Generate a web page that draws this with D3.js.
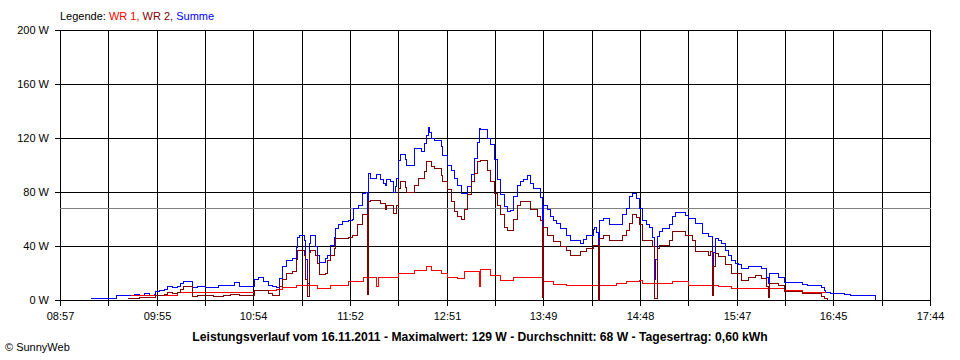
<!DOCTYPE html>
<html><head><meta charset="utf-8">
<script src="https://cdn.jsdelivr.net/npm/d3@7"></script>
<style>
body{margin:0;background:#fff}
svg{display:block}
text{font-family:"Liberation Sans",Arial,sans-serif}
</style>
</head><body>
<svg id="c" width="960" height="360"></svg>
<script>
// ---- data ----
const xLabels = ["08:57","","09:55","","10:54","","11:52","","12:51","","13:49","","14:48","","15:47","","16:45","","17:44"];
const yTicks = [0,40,80,120,160,200];
const timeStart = "08:57", timeEnd = "17:44";
const average = 68;
const legendItems = ["WR 1", "WR 2", "Summe"];
const title = "Leistungsverlauf vom 16.11.2011 - Maximalwert: 129 W - Durchschnitt: 68 W - Tagesertrag: 0,60 kWh";

const summe = [
["09:16",1],["09:31",3],["09:42",4],["09:45",3.5],["09:48",4.5],["09:51",3.5],["09:54",4],["09:55",6.5],["09:57",7],["10:00",8],["10:02",10],["10:05",9],["10:08",10],["10:10",12.5],["10:12",14],["10:17",9],["10:20",10],["10:25",9.5],["10:30",9],["10:33",10.5],["10:40",11],["10:43",12.6],["10:46",10],["10:55",15],["10:57",16.5],["11:00",14],["11:03",11],["11:06",10],["11:08",9.4],["11:10",16],["11:12",25],["11:14",29.6],["11:18",31],["11:20",39],["11:21",46],["11:22",48],["11:25",44],["11:26",30],["11:27",12],["11:28",42],["11:29",48],["11:32",40],["11:33",33],["11:34",28],["11:38",31],["11:39",33],["11:41",40.7],["11:43",46],["11:44",53],["11:46",56],["11:48",58],["11:52",59],["11:54",60],["11:55",68],["11:58",70],["12:00",79],["12:02",80],["12:03",5],["12:04",93.8],["12:05",90],["12:09",92.6],["12:11",89],["12:13",86],["12:14",85],["12:15",89],["12:17",88],["12:19",80],["12:20",84],["12:21",90],["12:22",103.7],["12:23",108],["12:26",104],["12:27",100],["12:32",112],["12:36",110],["12:38",116],["12:39",122],["12:40",128],["12:41",124],["12:42",119.7],["12:44",118.5],["12:48",113.6],["12:49",107.4],["12:52",100],["12:54",96],["12:56",90],["12:58",85],["13:00",79],["13:04",84],["13:06",92.6],["13:08",105],["13:10",117],["13:11",127],["13:12",126],["13:16",120],["13:18",115],["13:20",104],["13:22",89],["13:24",78],["13:26",69],["13:28",65.4],["13:30",66],["13:32",77],["13:34",85],["13:36",87.6],["13:38",89.4],["13:40",92],["13:42",86.4],["13:44",82.7],["13:48",76],["13:49",17],["13:50",70],["13:52",66.7],["13:54",61.7],["13:56",59],["13:58",57],["14:00",53],["14:04",48],["14:06",44],["14:12",42],["14:14",45],["14:16",48],["14:20",52],["14:21",54],["14:22",50],["14:23",17],["14:24",59],["14:26",60.5],["14:30",55.6],["14:38",63],["14:40",68],["14:42",76.5],["14:44",79],["14:46",75],["14:48",68],["14:50",59],["14:52",56],["14:54",54],["14:56",46],["14:57",15],["14:58",30],["14:59",47],["15:00",50.6],["15:02",53],["15:06",55.6],["15:08",61.7],["15:10",65],["15:16",62.5],["15:18",60.5],["15:22",56.8],["15:26",49],["15:30",47],["15:32",15],["15:33",35],["15:34",45.7],["15:36",44],["15:38",42],["15:40",37],["15:42",33],["15:44",29.6],["15:46",27],["15:48",26],["15:50",23.5],["15:54",24.7],["16:02",23.5],["16:05",17],["16:06",12],["16:07",19.8],["16:12",17],["16:16",13],["16:27",11.6],["16:30",11],["16:38",9.4],["16:40",7.4],["16:41",5.4],["16:44",5],["16:52",4.4],["16:56",3.7],["17:10",3.7],["17:11",0]
];

const wr2 = [
["09:38",1],["09:45",1.5],["09:55",3.7],["09:57",3],["10:00",4],["10:02",5.4],["10:05",4.5],["10:08",5.4],["10:10",8],["10:12",10],["10:17",2.5],["10:20",3.1],["10:30",2.5],["10:36",3],["10:40",4.2],["10:46",3.7],["10:55",6.7],["11:00",7],["11:03",5],["11:06",3],["11:10",10],["11:12",15],["11:14",19.8],["11:18",21],["11:20",30],["11:21",37],["11:25",33],["11:26",15],["11:27",2.5],["11:28",35],["11:29",37],["11:32",33],["11:33",27],["11:34",19],["11:38",20],["11:39",29.6],["11:41",33],["11:43",38],["11:44",45.7],["11:52",46],["11:54",48],["11:57",55.6],["12:00",63],["12:03",4],["12:04",72.8],["12:05",74],["12:11",71.6],["12:14",66.7],["12:15",70],["12:19",64],["12:21",70],["12:22",82.7],["12:23",87.6],["12:26",83],["12:27",80],["12:32",85],["12:34",90],["12:38",95],["12:39",102.4],["12:42",98.8],["12:44",97.5],["12:48",92],["12:49",87.6],["12:52",81.5],["12:54",72.8],["12:56",65.4],["12:58",61.7],["13:00",60],["13:02",66.7],["13:04",78],["13:06",87.6],["13:08",93.8],["13:10",102.4],["13:12",103.7],["13:16",96],["13:18",87.6],["13:20",79],["13:22",70],["13:24",63],["13:26",54],["13:28",51.8],["13:32",60],["13:34",70],["13:36",72.8],["13:42",66.7],["13:46",61.7],["13:48",59],["13:49",2],["13:50",54],["13:52",48],["13:56",43],["14:00",39.5],["14:04",37],["14:06",33.3],["14:12",35.8],["14:16",38.3],["14:20",40.7],["14:23",0],["14:24",45.7],["14:26",48],["14:30",44],["14:38",48],["14:40",51.8],["14:42",56.8],["14:44",63],["14:46",61],["14:48",55.6],["14:50",44],["14:56",40],["14:57",1],["14:59",38],["15:00",40.7],["15:06",44],["15:08",50.6],["15:16",48],["15:20",44],["15:22",35.8],["15:30",33],["15:31",36],["15:32",3.7],["15:33",25],["15:34",34.6],["15:36",32],["15:40",26],["15:44",19.8],["15:50",14.8],["15:54",17],["15:58",17.8],["16:02",16],["16:05",10],["16:06",1.5],["16:07",12.3],["16:12",11],["16:16",6.2],["16:27",5],["16:38",2.5],["16:40",1.2],["16:42",0]
];

const wr1 = [
["09:40",3],["10:08",5.5],["10:55",6.7],["11:08",8],["11:12",9.4],["11:20",11],["11:33",8.6],["11:41",11],["11:52",13.6],["12:01",17],["12:09",10],["12:10",17],["12:22",19.3],["12:32",21.7],["12:39",24.7],["12:42",22],["12:48",19.3],["12:52",16.8],["12:58",16],["13:02",21],["13:11",10],["13:12",22.7],["13:18",18.5],["13:24",14.3],["13:32",17],["13:50",13.6],["13:56",11.6],["14:04",11],["14:34",12],["14:40",13.6],["14:48",14.8],["14:50",12.3],["15:08",13.6],["15:18",11],["15:36",9.9],["15:44",8.6],["16:16",6.7],["16:27",5.6],["16:41",5.6]
];

// ---- chart ----
const toMin = s => { const p = s.split(":").map(Number); return p[0]*60 + p[1]; };
const x = d3.scaleLinear().domain([toMin(timeStart), toMin(timeEnd)]).range([60, 930]);
const y = d3.scaleLinear().domain([0, 200]).range([300, 30]);
const px = v => Math.round(v) + 0.5;

const svg = d3.select("#c");
svg.append("rect").attr("width", 960).attr("height", 360).attr("fill", "#fff");

const [d0, d1] = x.domain();
const xTickVals = d3.range(xLabels.length).map(i => d0 + i * (d1 - d0) / (xLabels.length - 1));

const grid = svg.append("g").attr("shape-rendering", "crispEdges").attr("stroke", "#000").attr("stroke-width", 1);
grid.selectAll("line.v").data(xTickVals).join("line").attr("class", "v")
  .attr("x1", d => px(x(d))).attr("x2", d => px(x(d)))
  .attr("y1", y(200)).attr("y2", y(0) + 6);
grid.selectAll("line.h").data(yTicks).join("line").attr("class", "h")
  .attr("y1", d => px(y(d))).attr("y2", d => px(y(d)))
  .attr("x1", 55).attr("x2", x.range()[1] + 1);

// axes (labels)
const xAxis = svg.append("g").attr("transform", `translate(0,${px(y(0))})`)
  .call(d3.axisBottom(x).tickValues(xTickVals).tickFormat((d, i) => xLabels[i]).tickSize(0).tickPadding(12));
xAxis.select(".domain").remove();
xAxis.selectAll(".tick").attr("transform", d => `translate(${px(x(d))},0)`);
xAxis.selectAll("text").attr("font-size", 11).attr("fill", "#000").attr("font-family", '"Liberation Sans",Arial,sans-serif');

const yAxis = svg.append("g").attr("transform", `translate(60,0)`)
  .call(d3.axisLeft(y).tickValues(yTicks).tickFormat(d => d + " W").tickSize(0).tickPadding(11));
yAxis.select(".domain").remove();
yAxis.selectAll(".tick").attr("transform", d => `translate(0,${px(y(d))})`);
yAxis.selectAll("text").attr("font-size", 11).attr("fill", "#000").attr("font-family", '"Liberation Sans",Arial,sans-serif');

// average line
svg.append("line").attr("shape-rendering", "crispEdges")
  .attr("x1", 60).attr("x2", x.range()[1] + 1)
  .attr("y1", px(y(average))).attr("y2", px(y(average)))
  .attr("stroke", "#808080").attr("stroke-width", 1);

// series
const line = d3.line().x(d => x(toMin(d[0]))).y(d => y(d[1])).curve(d3.curveStepAfter);
const series = [
  {data: summe, color: "#0000ff"},
  {data: wr1, color: "#ff0000"},
  {data: wr2, color: "#800000"}
];
svg.append("g").selectAll("path").data(series).join("path")
  .attr("d", d => line(d.data))
  .attr("fill", "none").attr("stroke", d => d.color).attr("stroke-width", 1)
  .attr("shape-rendering", "crispEdges");

// legend
const leg = svg.append("text").attr("x", 60).attr("y", 20).attr("font-size", 11);
leg.append("tspan").attr("fill", "#000").text("Legende: ");
leg.append("tspan").attr("fill", "#ff0000").text(legendItems[0] + ", ");
leg.append("tspan").attr("fill", "#800000").text(legendItems[1] + ", ");
leg.append("tspan").attr("fill", "#0000ff").text(legendItems[2]);

// title
const t = svg.append("text").attr("x", 480).attr("y", 341).attr("text-anchor", "middle")
  .attr("font-weight", "bold").attr("font-size", 12).attr("fill", "#000").text(title);
const len = t.node().getComputedTextLength();
t.attr("font-size", 12 * 576 / len);

svg.append("text").attr("x", 5).attr("y", 351).attr("font-size", 11).attr("fill", "#000").text("© SunnyWeb");
</script>
</body></html>
